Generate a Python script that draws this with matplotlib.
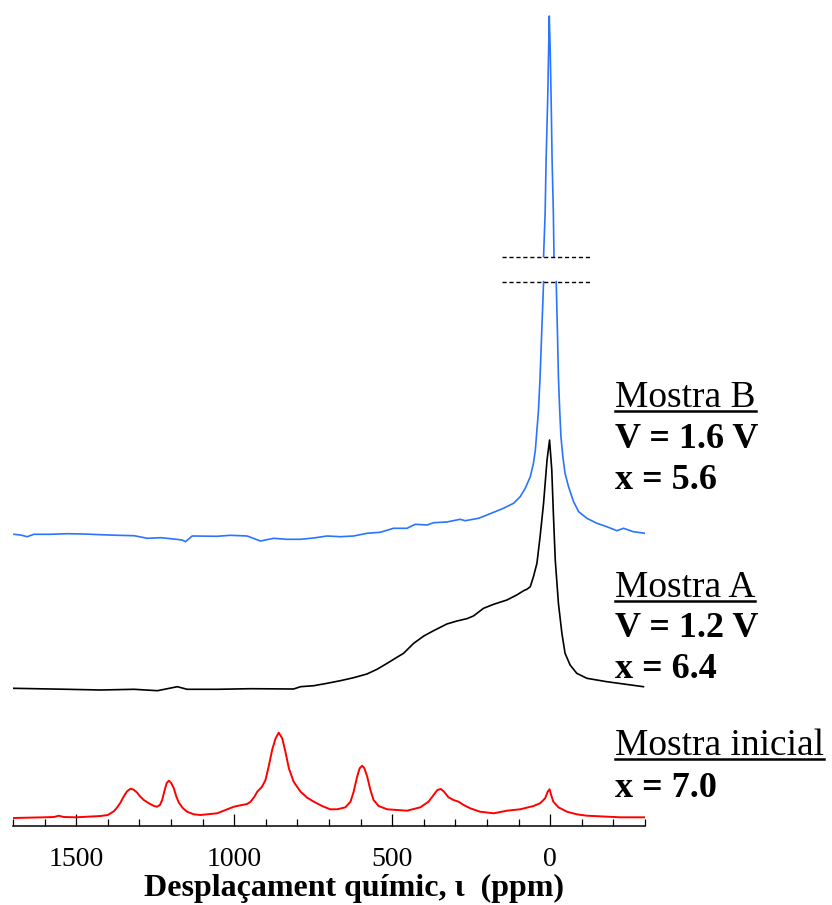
import numpy as np
import matplotlib
matplotlib.use("Agg")
import matplotlib.pyplot as plt
from matplotlib.ticker import MultipleLocator
from matplotlib.lines import Line2D

plt.rcParams['font.family'] = ['Liberation Serif', 'DejaVu Serif']

# Spectra: chemical shift (ppm) and intensity above each trace's baseline (a.u.)
ppmInicial = [1700, 1600, 1570, 1555, 1540, 1500, 1423, 1400, 1391, 1380, 1370, 1360, 1350, 1339, 1328,
              1318, 1307, 1297, 1286, 1270, 1254, 1244, 1235, 1228, 1220, 1214, 1207, 1200, 1191, 1183,
              1175, 1162, 1149, 1128, 1107, 1054, 1001, 980, 959, 948, 936, 927, 912, 901, 891, 880,
              869, 859, 848, 838, 827, 812, 790, 769, 748, 722, 696, 674, 648, 632, 622, 611, 603, 595,
              588, 579, 569, 559, 543, 516, 453, 411, 385, 369, 357, 346, 336, 322, 306, 290, 274, 253,
              222, 179, 137, 95, 53, 32, 16, 8, 2, -3, -10, -26, -53, -84, -116, -221, -300]
intInicial = [0, 0.7, 1, 2.3, 1, 0.7, 2, 3, 4.7, 7, 10.7, 15.3, 21.3, 26.7, 29.3,
              28.3, 25.3, 21.3, 18, 14.7, 12, 11.3, 13, 18, 28, 34.7, 37.3, 35.3, 29.7, 21.3,
              15.3, 9.7, 6.3, 3.7, 3, 4.7, 11.3, 12.7, 14, 16.3, 21.3, 26.3, 31.3, 38, 51.3, 68,
              79.7, 85.3, 79.7, 66.3, 49.7, 36.3, 26.3, 20.3, 16.3, 12, 8.7, 8.7, 10.7, 16.3, 26.3, 41.3, 49.7, 52.3,
              49.7, 41.3, 28, 18, 12, 8.7, 7.3, 10.7, 16.3, 23, 28, 29, 26.3, 20.7, 18, 16.3, 13, 9.7,
              6.3, 4.7, 7.3, 8.7, 12, 14.7, 19.7, 26.3, 28.7, 23, 16.3, 10.7, 6.3, 3.7, 2.3, 0.7, 0.7]

ppmA = [1700, 1528, 1423, 1317, 1243, 1180, 1149, 1054, 948, 812, 790, 748, 706, 664, 622, 580,
        548, 516, 485, 464, 432, 400, 369, 327, 295, 264, 243, 211, 179, 137, 106, 84, 74, 63,
        53, 42, 32, 21, 10, 2, -5, -10, -16, -26, -37, -47, -63, -84, -116, -179, -295]
intA = [0.7, -0.3, -1, -0.3, -1.7, 2.3, -0.3, -0.3, 0.3, 0, 2.3, 3.3, 5.7, 8.3, 11.3, 15,
        19.7, 25.7, 31.7, 35.7, 45.7, 53, 58.3, 65, 68, 70.3, 73, 80.7, 84.7, 89, 94, 98.3, 99.7, 102.3,
        112.3, 125.7, 152.3, 185.7, 229, 249, 219, 175.7, 129, 85.7, 55.7, 35.7, 24, 15.7, 10.7, 7.3, 2.3]

# Mostra B: the central peak is drawn with an axis break (nan = gap)
ppmB = [1697, 1676, 1655, 1634, 1581, 1528, 1476, 1423, 1370, 1317, 1275, 1233, 1191, 1165, 1154,
        1133, 1054, 1012, 959, 917, 875, 834, 790, 749, 706, 664, 622, 580, 538, 496, 453, 427,
        390, 369, 327, 285, 269, 227, 200, 148, 116, 95, 79, 63, 53, 47, 42, 37, 32, 27, 23, 21,
        np.nan, 21, 16, 13, 8, 5, 3, 0, -3, -6, -10, -12, np.nan,
        -19, -23, -26, -30, -34, -40, -47, -58, -74, -90, -116, -148, -179, -211, -232, -263, -300]
intB = [0.7, 0, -1.7, 0.7, 0.7, 1.3, 1, 0.3, -0.3, -0.7, -3.3, -2.7, -4, -5, -6.7,
        -1, -1.3, -0.3, -1, -6, -3.3, -4.3, -4.3, -3, -1, -1.7, -1, 1.7, 2.7, 6.7, 6.7, 10.7,
        10, 12.3, 13, 15.7, 14.3, 16.7, 20, 26.7, 31.7, 38.3, 46.7, 58.3, 71.7, 85, 105, 125, 158.3, 201.7, 235, 253.3,
        np.nan, 278.3, 322, 375, 435, 485, 519, 485, 435, 375, 322, 278.3, np.nan,
        253.3, 201.7, 158.3, 125, 98.3, 78.3, 61.7, 48.3, 33.3, 23.3, 16.7, 11.7, 8.3, 4.3, 6.7, 3.3, 1.7]

offsets = {'inicial': 8, 'A': 137, 'B': 291}
breakLevels = [253.3, 278.3]
breakSpan = [152, -126]

fig = plt.figure(figsize=(8.32, 9.05), dpi=100)
ax = fig.add_axes([13/832, 79/905, 632/832, 826/905])

ax.plot(ppmInicial, np.array(intInicial) + offsets['inicial'], color="#ff0000", lw=1.4)
ax.plot(ppmA, np.array(intA) + offsets['A'], color="black", lw=1.2)
ax.plot(ppmB, np.array(intB) + offsets['B'], color="#2a74ff", lw=1.2)

for lvl in breakLevels:
    ax.plot(breakSpan, [lvl + offsets['B']] * 2, color="black", lw=1.0, dashes=(3, 2))

ax.set_xlim(1700, -300)
ax.set_ylim(0, 826)
ax.xaxis.set_major_locator(MultipleLocator(500))
ax.xaxis.set_minor_locator(MultipleLocator(100))
ax.tick_params(axis='x', which='major', direction='in', length=8.5, width=0.9, labelsize=20, pad=15)
ax.tick_params(axis='x', which='minor', direction='in', length=5, width=0.9)
ax.set_yticks([])
for s in ['left', 'right', 'top']:
    ax.spines[s].set_visible(False)
ax.spines['bottom'].set_linewidth(1.1)
ax.set_xlabel("Desplaçament químic, ι  (ppm)", fontsize=23, fontweight='bold')
ax.xaxis.set_label_coords(0.54, -0.058)

# Sample labels on the right
labels = [
    ("Mostra B", 406.7, 'normal', True),
    ("V = 1.6 V", 448.3, 'bold', False),
    ("x = 5.6", 489, 'bold', False),
    ("Mostra A", 596.7, 'normal', True),
    ("V = 1.2 V", 636.7, 'bold', False),
    ("x = 6.4", 678.3, 'bold', False),
    ("Mostra inicial", 755, 'normal', True),
    ("x = 7.0", 796.7, 'bold', False),
]
texts = []
for txt, ypx, weight, under in labels:
    size = 27 if under else 26
    t = fig.text(615/832, 1 - ypx/905, txt, fontsize=size, fontweight=weight, va='baseline', ha='left')
    texts.append((t, ypx, under))

fig.canvas.draw()
r = fig.canvas.get_renderer()
for t, ypx, under in texts:
    if under:
        bb = t.get_window_extent(renderer=r)
        yl = 1 - (ypx + 4)/905
        fig.add_artist(Line2D([bb.x0/832, bb.x1/832], [yl, yl], color="black", lw=1.8,
                              transform=fig.transFigure))

fig.savefig("out.png", dpi=100)
